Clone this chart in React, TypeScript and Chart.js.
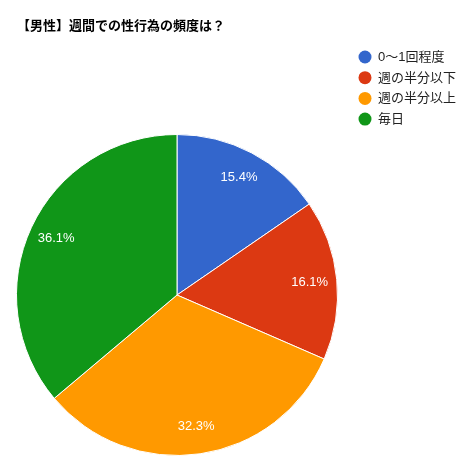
import React, { useEffect, useRef } from 'react';
import { Chart, registerables, Plugin } from 'chart.js';

Chart.register(...registerables);

const chartTitle = '【男性】週間での性行為の頻度は？';
const categories = ['0～1回程度', '週の半分以下', '週の半分以上', '毎日'];
const shares = [15.4, 16.1, 32.3, 36.1];
const sliceColors = ['#3366cc', '#dc3912', '#ff9900', '#109618'];

const FONT = "Arial, 'Liberation Sans', 'Noto Sans CJK JP', sans-serif";

// タイトル・凡例・ラベルを描画するプラグイン
const decorPlugin: Plugin<'pie'> = {
    id: 'decor',
    afterDatasetsDraw(chart) {
        const ctx = chart.ctx;
        ctx.save();

        // タイトル
        ctx.fillStyle = '#000000';
        ctx.font = `bold 13px ${FONT}`;
        ctx.textAlign = 'left';
        ctx.textBaseline = 'middle';
        ctx.fillText(chartTitle, 17, 26);

        // 凡例
        ctx.font = `13px ${FONT}`;
        categories.forEach((name, i) => {
            const y = 57 + i * 20.7;
            ctx.beginPath();
            ctx.fillStyle = sliceColors[i];
            ctx.arc(365, y, 6.5, 0, Math.PI * 2);
            ctx.fill();
            ctx.fillStyle = '#222222';
            ctx.fillText(name, 378, y + 0.5);
        });

        // 扇形内のパーセント
        const meta = chart.getDatasetMeta(0);
        ctx.fillStyle = '#ffffff';
        ctx.textAlign = 'center';
        meta.data.forEach((el, i) => {
            const p = (el as any).getProps(['x', 'y', 'startAngle', 'endAngle', 'outerRadius'], true);
            const mid = (p.startAngle + p.endAngle) / 2;
            const r = p.outerRadius * 0.83;
            ctx.fillText(`${shares[i].toFixed(1)}%`, p.x + Math.cos(mid) * r, p.y + Math.sin(mid) * r);
        });

        ctx.restore();
    },
};

const App: React.FC = () => {
    const canvasRef = useRef<HTMLCanvasElement>(null);
    const chartRef = useRef<Chart<'pie'> | null>(null);

    useEffect(() => {
        if (!canvasRef.current) return;
        if (chartRef.current) chartRef.current.destroy();

        chartRef.current = new Chart(canvasRef.current, {
            type: 'pie',
            data: {
                labels: categories,
                datasets: [
                    {
                        data: shares,
                        backgroundColor: sliceColors,
                        borderColor: '#ffffff',
                        borderWidth: 1,
                    },
                ],
            },
            options: {
                animation: false,
                responsive: true,
                maintainAspectRatio: false,
                layout: {
                    padding: { top: 134, bottom: 19, left: 16, right: 135 },
                },
                plugins: {
                    legend: { display: false },
                    title: { display: false },
                    tooltip: { enabled: false },
                },
            },
            plugins: [decorPlugin],
        });

        return () => {
            if (chartRef.current) {
                chartRef.current.destroy();
                chartRef.current = null;
            }
        };
    }, []);

    return (
        <div style={{ position: 'fixed', left: 0, top: 0, width: 473, height: 475, background: '#ffffff' }}>
            <canvas ref={canvasRef} />
        </div>
    );
};

export default App;
